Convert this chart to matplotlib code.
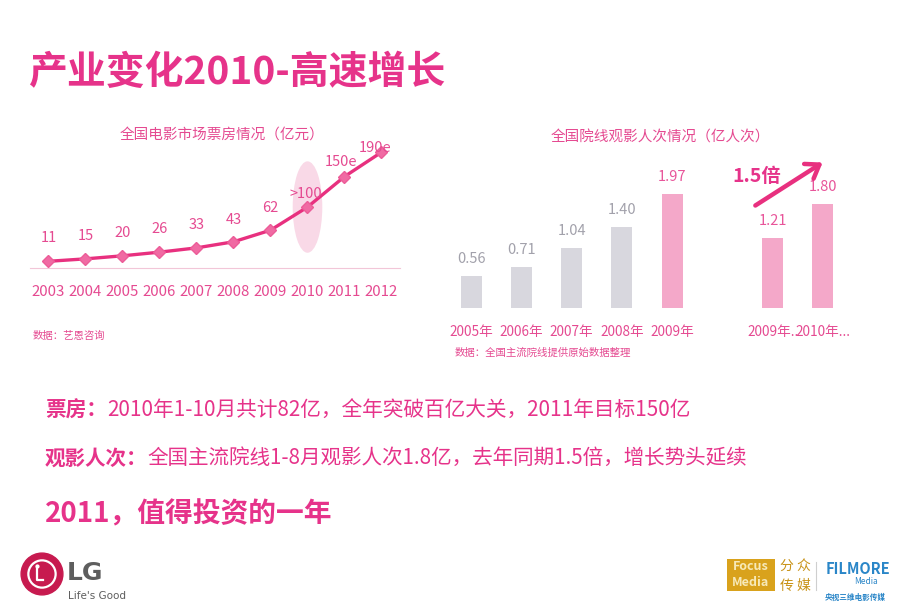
import matplotlib
matplotlib.use("Agg")
from matplotlib import pyplot as plt
from matplotlib.patches import Ellipse, Circle, Rectangle, FancyArrowPatch
import numpy as np

plt.rcParams['font.family'] = ['Noto Sans CJK SC', 'DejaVu Sans']

# 票房数据（亿元）
years = ["2003", "2004", "2005", "2006", "2007", "2008", "2009", "2010", "2011", "2012"]
boxOffice = [11, 15, 20, 26, 33, 43, 62, 100, 150, 190]
boxLabels = ["11", "15", "20", "26", "33", "43", "62", ">100", "150e", "190e"]
# 标签偏移（像素）
labelDx = [0, 0, 0, 0, 0, 0, 0, -2, -3, -6]
labelDy = [23, 23, 23, 23, 23, 22, 22, 13, 15, 4]

# 观影人次（亿人次）
visitCats = ["2005年", "2006年", "2007年", "2008年", "2009年", "2009年..", "2010年..."]
visitPos = [0, 1, 2, 3, 4, 6, 7]
visitVals = [0.56, 0.71, 1.04, 1.40, 1.97, 1.21, 1.80]
visitIsPink = [False, False, False, False, True, True, True]

PINK = "#e6338a"
LINEPINK = "#e8307f"
TXTPINK = "#e54a91"
W, H = 920, 614

fig = plt.figure(figsize=(9.2, 6.14), dpi=100)

def box(l, t, r, b):
    return [l / W, 1 - b / H, (r - l) / W, (b - t) / H]

# 标题
fig.text(28 / W, 1 - 72 / H, "产业变化2010-高速增长", fontsize=28, fontweight="bold",
         color=PINK, va="center", ha="left")

# ---- 折线图 ----
ax1 = fig.add_axes(box(30, 140, 400, 268))
xs = np.arange(len(years))
ax1.add_patch(Ellipse((7, 100), 0.8, 150, color="#f8d3e3", alpha=0.85, zorder=1, lw=0))
ax1.plot(xs, boxOffice, "-", color=LINEPINK, lw=2.4, zorder=3)
ax1.plot(xs, boxOffice, "D", color="#f06aa3", ms=6, mec="#ec5c98", zorder=4)
for x, v, lab, dx, dy in zip(xs, boxOffice, boxLabels, labelDx, labelDy):
    ax1.annotate(lab, (x, v), xytext=(dx, dy), textcoords="offset pixels", ha="center",
                 va="center", fontsize=10.5, color=TXTPINK, zorder=5)
ax1.set_xlim(-0.5, len(years) - 0.5)
ax1.set_ylim(0, 210)
ax1.set_xticks(xs, years)
ax1.set_yticks([])
for s in ["top", "right", "left"]:
    ax1.spines[s].set_visible(False)
ax1.spines["bottom"].set_color("#f2c6d8")
ax1.spines["bottom"].set_linestyle((0, (2, 1)))
ax1.tick_params(axis="x", length=0, pad=12, labelsize=10.8, labelcolor=TXTPINK)
ax1.patch.set_alpha(0)

fig.text(222 / W, 1 - 135 / H, "全国电影市场票房情况（亿元）", fontsize=10.5, color=TXTPINK,
         ha="center", va="center")
fig.text(33 / W, 1 - 336 / H, "数据：艺恩咨询", fontsize=7.5, color=TXTPINK, ha="left", va="center")

# ---- 柱状图 ----
ax2 = fig.add_axes(box(446, 169.5, 848, 308))
barColors = ["#f4a8c9" if p else "#d8d7de" for p in visitIsPink]
ax2.bar(visitPos, visitVals, width=0.42, color=barColors, zorder=2)
for x, v, p in zip(visitPos, visitVals, visitIsPink):
    ax2.annotate(f"{v:.2f}", (x, v), xytext=(0, 17), textcoords="offset pixels", ha="center",
                 va="center", fontsize=10.5, color="#e8559a" if p else "#a2a1ab")
ax2.set_xlim(-0.5, 7.5)
ax2.set_ylim(0, 2.4)
ax2.set_xticks(visitPos, visitCats)
ax2.set_yticks([])
for s in ax2.spines.values():
    s.set_visible(False)
ax2.tick_params(axis="x", length=0, pad=12, labelsize=9.8, labelcolor=TXTPINK)
ax2.patch.set_alpha(0)

fig.text(660 / W, 1 - 138 / H, "全国院线观影人次情况（亿人次）", fontsize=10.5, color=TXTPINK,
         ha="center", va="center")
fig.text(455 / W, 1 - 353 / H, "数据：全国主流院线提供原始数据整理", fontsize=7.5, color=TXTPINK,
         ha="left", va="center")

# 增长箭头
fig.add_artist(FancyArrowPatch(
    (753 / W, 1 - 207 / H), (825 / W, 1 - 161 / H), transform=fig.transFigure,
    arrowstyle="->,head_length=5,head_width=3.5", mutation_scale=1.8, lw=3.2, color=LINEPINK))
fig.text(757 / W, 1 - 176 / H, "1.5倍", fontsize=14, fontweight="bold", color=PINK,
         ha="center", va="center")

# ---- 文字说明 ----
def twoPart(y, boldTxt, normTxt, size):
    t = fig.text(45 / W, 1 - y / H, boldTxt, fontsize=size, fontweight="bold", color=PINK,
                 ha="left", va="baseline")
    fig.text(0, 0, "")
    plt.annotate(normTxt, xy=(1, 0), xycoords=t, xytext=(0, 0), textcoords="offset points",
                 fontsize=size, color=PINK, ha="left", va="bottom", annotation_clip=False)

twoPart(417, "票房：", "2010年1-10月共计82亿，全年突破百亿大关，2011年目标150亿", 14.9)
twoPart(465, "观影人次：", "全国主流院线1-8月观影人次1.8亿，去年同期1.5倍，增长势头延续", 14.8)
fig.text(45 / W, 1 - 514 / H, "2011，值得投资的一年", fontsize=20, fontweight="bold",
         color=PINK, ha="left", va="center")

# ---- 标志 ----
lg = fig.add_axes(box(20, 552, 64, 596))
lg.set_xlim(-1, 1)
lg.set_ylim(-1, 1)
lg.set_aspect("equal")
lg.axis("off")
lg.add_patch(Circle((0, 0), 0.95, color="#c71a4f"))
lg.add_patch(Circle((0, 0), 0.62, fill=False, ec="white", lw=1.6))
lg.plot([-0.25, -0.25, 0.05], [0.35, -0.25, -0.25], color="white", lw=1.6)
lg.plot([-0.22], [0.35], "o", color="white", ms=2)
fig.text(67 / W, 1 - 573 / H, "LG", fontsize=18, fontweight="bold", color="#5e5e5e",
         ha="left", va="center", family="DejaVu Sans")
fig.text(68 / W, 1 - 596 / H, "Life's Good", fontsize=7.5, color="#5e5e5e",
         ha="left", va="center", family="Liberation Sans Narrow")

fig.add_artist(Rectangle((727 / W, 1 - 591 / H), 48 / W, 32 / H, transform=fig.transFigure,
                         color="#d9a21c", lw=0))
fig.text(751 / W, 1 - 567 / H, "Focus", fontsize=9, fontweight="bold", color="#f7e9b8",
         ha="center", va="center")
fig.text(751 / W, 1 - 583 / H, "Media", fontsize=9, fontweight="bold", color="#f7e9b8",
         ha="center", va="center")
fig.text(795 / W, 1 - 566 / H, "分 众", fontsize=10, color="#c9941a", ha="center", va="center")
fig.text(795 / W, 1 - 586 / H, "传 媒", fontsize=10, color="#c9941a", ha="center", va="center")
fig.add_artist(plt.Line2D([816 / W, 816 / W], [1 - 590 / H, 1 - 562 / H], color="#cfcfcf", lw=0.8))
fig.text(858 / W, 1 - 569 / H, "FILMORE", fontsize=10.5, fontweight="bold", color="#2a86c8",
         ha="center", va="center")
fig.text(866 / W, 1 - 582 / H, "Media", fontsize=6, color="#2a86c8", ha="center", va="center")
fig.text(855 / W, 1 - 597 / H, "央视三维电影传媒", fontsize=5.5, fontweight="bold", color="#2a86c8",
         ha="center", va="center")

fig.savefig("out.png", dpi=100)
